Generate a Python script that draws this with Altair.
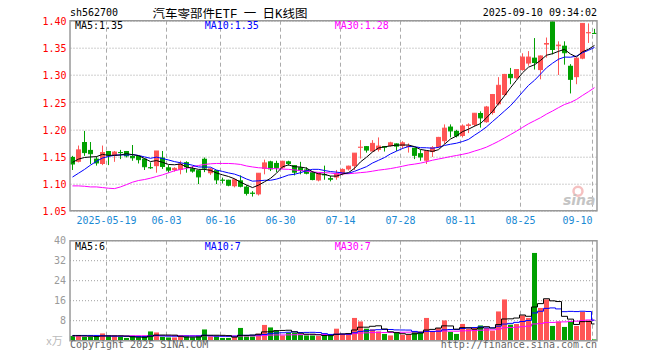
import altair as alt
import pandas as pd

dates = [
    "2025-05-09", "2025-05-12", "2025-05-13", "2025-05-14", "2025-05-15", "2025-05-16",
    "2025-05-19", "2025-05-20", "2025-05-21", "2025-05-22", "2025-05-23",
    "2025-05-26", "2025-05-27", "2025-05-28", "2025-05-29", "2025-05-30",
    "2025-06-03", "2025-06-04", "2025-06-05", "2025-06-06",
    "2025-06-09", "2025-06-10", "2025-06-11", "2025-06-12", "2025-06-13",
    "2025-06-16", "2025-06-17", "2025-06-18", "2025-06-19", "2025-06-20",
    "2025-06-23", "2025-06-24", "2025-06-25", "2025-06-26", "2025-06-27", "2025-06-30",
    "2025-07-01", "2025-07-02", "2025-07-03", "2025-07-04",
    "2025-07-07", "2025-07-08", "2025-07-09", "2025-07-10", "2025-07-11",
    "2025-07-14", "2025-07-15", "2025-07-16", "2025-07-17", "2025-07-18",
    "2025-07-21", "2025-07-22", "2025-07-23", "2025-07-24", "2025-07-25",
    "2025-07-28", "2025-07-29", "2025-07-30", "2025-07-31", "2025-08-01",
    "2025-08-04", "2025-08-05", "2025-08-06", "2025-08-07", "2025-08-08",
    "2025-08-11", "2025-08-12", "2025-08-13", "2025-08-14", "2025-08-15",
    "2025-08-18", "2025-08-19", "2025-08-20", "2025-08-21", "2025-08-22",
    "2025-08-25", "2025-08-26", "2025-08-27", "2025-08-28", "2025-08-29",
    "2025-09-01", "2025-09-02", "2025-09-03", "2025-09-04", "2025-09-05",
    "2025-09-08", "2025-09-09", "2025-09-10",
]

opens = [
    1.149, 1.140, 1.1765, 1.162, 1.146, 1.136, 1.160, 1.151, 1.158, 1.160,
    1.151, 1.151, 1.146, 1.130, 1.132, 1.148, 1.130, 1.1247, 1.1253, 1.1395,
    1.128, 1.1247, 1.1457, 1.119, 1.1247, 1.107, 1.107, 1.095, 1.106, 1.0944,
    1.083, 1.080, 1.127, 1.141, 1.138, 1.129, 1.141, 1.134, 1.130, 1.126,
    1.121, 1.1056, 1.117, 1.110, 1.111, 1.1185, 1.126, 1.132, 1.166, 1.169,
    1.159, 1.162, 1.169, 1.169, 1.174, 1.169, 1.167, 1.166, 1.156, 1.142,
    1.158, 1.167, 1.178, 1.205, 1.197, 1.1876, 1.206, 1.208, 1.230, 1.213,
    1.230, 1.246, 1.263, 1.302, 1.294, 1.309, 1.321, 1.332, 1.309, 1.356,
    1.399, 1.353, 1.354, 1.317, 1.296, 1.330, 1.377, 1.3775,
]
highs = [
    1.151, 1.170, 1.197, 1.1765, 1.150, 1.170, 1.160, 1.160, 1.162, 1.160,
    1.171, 1.151, 1.146, 1.139, 1.160, 1.160, 1.134, 1.130, 1.142, 1.141,
    1.132, 1.1247, 1.148, 1.129, 1.1247, 1.111, 1.107, 1.109, 1.115, 1.097,
    1.086, 1.119, 1.144, 1.142, 1.142, 1.142, 1.142, 1.134, 1.140, 1.130,
    1.123, 1.120, 1.133, 1.114, 1.125, 1.128, 1.133, 1.156, 1.180, 1.169,
    1.180, 1.185, 1.169, 1.177, 1.174, 1.178, 1.174, 1.166, 1.162, 1.160,
    1.169, 1.186, 1.209, 1.209, 1.199, 1.209, 1.211, 1.230, 1.233, 1.243,
    1.265, 1.296, 1.302, 1.313, 1.310, 1.340, 1.344, 1.368, 1.336, 1.369,
    1.400, 1.362, 1.362, 1.320, 1.331, 1.395, 1.395, 1.385,
]
lows = [
    1.125, 1.139, 1.151, 1.136, 1.133, 1.134, 1.134, 1.140, 1.145, 1.148,
    1.142, 1.137, 1.125, 1.127, 1.120, 1.127, 1.120, 1.122, 1.117, 1.120,
    1.120, 1.099, 1.121, 1.116, 1.099, 1.100, 1.095, 1.093, 1.093, 1.078,
    1.076, 1.078, 1.117, 1.123, 1.121, 1.127, 1.133, 1.115, 1.117, 1.117,
    1.106, 1.104, 1.107, 1.104, 1.107, 1.115, 1.124, 1.125, 1.146, 1.157,
    1.159, 1.159, 1.159, 1.168, 1.160, 1.164, 1.157, 1.145, 1.142, 1.136,
    1.149, 1.165, 1.173, 1.185, 1.185, 1.185, 1.193, 1.205, 1.203, 1.212,
    1.227, 1.244, 1.261, 1.283, 1.292, 1.308, 1.317, 1.310, 1.292, 1.332,
    1.338, 1.300, 1.319, 1.266, 1.283, 1.329, 1.359, 1.376,
]
closes = [
    1.136, 1.162, 1.157, 1.155, 1.138, 1.157, 1.1525, 1.158, 1.157, 1.151,
    1.1475, 1.144, 1.131, 1.129, 1.160, 1.1315, 1.1247, 1.128, 1.136, 1.131,
    1.123, 1.1123, 1.1284, 1.127, 1.1068, 1.106, 1.097, 1.107, 1.095, 1.082,
    1.082, 1.119, 1.138, 1.127, 1.129, 1.141, 1.137, 1.121, 1.124, 1.119,
    1.1074, 1.1185, 1.116, 1.108, 1.1185, 1.126, 1.132, 1.156, 1.167, 1.1617,
    1.174, 1.169, 1.167, 1.175, 1.169, 1.175, 1.169, 1.152, 1.149, 1.160,
    1.166, 1.185, 1.202, 1.197, 1.188, 1.206, 1.208, 1.2295, 1.221, 1.241,
    1.264, 1.281, 1.301, 1.295, 1.310, 1.333, 1.333, 1.323, 1.335, 1.358,
    1.347, 1.355, 1.341, 1.292, 1.331, 1.395, 1.378, 1.3765,
]
volumes = [
    1.9, 1.9, 1.5, 1.5, 1.5, 2.9, 2.1, 1.6, 1.5, 1.1,
    1.5, 1.3, 1.5, 3.7, 3.3, 1.5, 1.3, 1.3, 1.5, 1.7,
    1.3, 1.7, 4.5, 1.7, 1.7, 1.1, 1.1, 1.6, 5.1, 1.7,
    1.7, 2.8, 6.3, 5.3, 4.0, 2.1, 3.2, 3.2, 2.4, 2.1,
    2.1, 1.9, 1.9, 2.1, 4.8, 2.7, 2.7, 9.1, 7.7, 4.8,
    4.5, 3.7, 2.7, 2.1, 3.1, 2.4, 2.4, 3.7, 3.7, 9.1,
    3.7, 5.1, 8.1, 3.5, 2.7, 6.7, 4.8, 5.3, 6.1, 5.1,
    4.0, 11.7, 16.5, 6.4, 6.7, 10.1, 9.1, 35.1, 13.1, 16.5,
    5.9, 7.7, 5.5, 7.5, 5.9, 11.5, 8.1, 0.5,
]

ma5_head = [1.139, 1.145, 1.148, 1.149]
ma10_head = [1.112, 1.119, 1.126, 1.134, 1.141, 1.147, 1.150, 1.152, 1.153]
ma30_head = [1.0957, 1.0957, 1.095, 1.0938, 1.0938, 1.0926, 1.0914, 1.0907, 1.0938, 1.098,
             1.1025, 1.1056, 1.1074, 1.1099, 1.113, 1.116, 1.1198, 1.1235, 1.126, 1.1278,
             1.1309, 1.1333, 1.1352, 1.1364, 1.137, 1.137, 1.137, 1.1364, 1.1352]
vma5_head = [2.0, 2.0, 1.9, 1.8]
vma10_head = [2.1, 2.1, 2.1, 2.1, 2.1, 2.0, 1.9, 1.8, 1.8]
vma30_head = [1.9, 1.9, 1.9, 1.9, 1.9, 1.9, 1.9, 1.9, 1.9, 1.9,
              2.0, 2.0, 2.0, 2.0, 2.0, 2.0, 2.0, 2.0, 2.0, 2.0,
              2.0, 2.0, 2.0, 1.9, 1.9, 1.9, 1.9, 1.9, 1.9]

tick_idx = [6, 16, 25, 35, 45, 55, 65, 75, 87]
tick_labels = ["2025-05-19", "06-03", "06-16", "06-30", "07-14", "07-28", "08-11", "08-25", "09-10"]
price_ticks = [1.05, 1.10, 1.15, 1.20, 1.25, 1.30, 1.35, 1.40]
vol_ticks = [8, 16, 24, 32, 40]

RED = "#ff5555"
GREEN = "#00a000"
MONO = "DejaVu Sans Mono"
CJK = "Noto Sans CJK SC"
W, H_P, GAP, H_V = 527, 190, 30, 100
VT = H_P + GAP
VB = VT + H_V


def moving(values, w, head):
    s = pd.Series(values, dtype=float).rolling(w).mean()
    s.iloc[:len(head)] = head
    return s.round(4).tolist()


n = len(closes)
df = pd.DataFrame({
    "i": list(range(n)), "date": dates, "open": opens, "high": highs,
    "low": lows, "close": closes, "vol": volumes,
})
df["xl"] = df["i"] - 5 / 12
df["xr"] = df["i"] + 5 / 12
df["zero"] = 0.0
df["col"] = [RED if c >= o else GREEN for o, c in zip(opens, closes)]
df["ma5"] = moving(closes, 5, ma5_head)
df["ma10"] = moving(closes, 10, ma10_head)
df["ma30"] = moving(closes, 30, ma30_head)
df["vma5"] = moving(volumes, 5, vma5_head)
df["vma10"] = moving(volumes, 10, vma10_head)
df["vma30"] = moving(volumes, 30, vma30_head)

grid_df = pd.DataFrame({"xg": [k - 1 / 3 for k in tick_idx], "label": tick_labels})
vt_df = pd.DataFrame({"v": vol_ticks})
one = pd.DataFrame({"a": [0]})

xs = alt.Scale(domain=[-5 / 12, -5 / 12 + W / 6], nice=False, zero=False)
ps = alt.Scale(domain=[1.05, 1.40], range=[H_P, 0], nice=False, zero=False)
vs = alt.Scale(domain=[0, 40], range=[VB, VT], nice=False, zero=False)

price_axis = alt.Axis(values=price_ticks, format=".2f", labelColor="#ff0000", labelFont=MONO,
                      labelFontSize=10, ticks=False, tickSize=0, domain=False, grid=True,
                      gridColor="#a0a0a0", gridDash=[1, 2], labelPadding=4, labelFlush=False,
                      labelOverlap=False, labelOffset=1, title=None)


def X(f):
    return alt.X(f, type="quantitative", scale=xs, axis=None)


def P(f):
    return alt.Y(f, type="quantitative", scale=ps, axis=price_axis)


def V(f):
    return alt.Y(f, type="quantitative", scale=vs, axis=None)


COL = alt.Color("col:N", scale=None)


def txt(s, x, y, color="#000000", font=MONO, size=10, align="left", **kw):
    return alt.Chart(one).mark_text(text=s, align=align, baseline="alphabetic", font=font,
                                    fontSize=size, color=color, **kw).encode(
        x=alt.value(x), y=alt.value(y))


# ---- price panel
pv_grid = alt.Chart(grid_df).mark_rule(color="#aaaaaa", strokeDash=[4, 3], strokeWidth=1).encode(
    x=X("xg"), y=alt.value(0), y2=alt.value(H_P))
wick = alt.Chart(df).mark_rule(strokeWidth=1).encode(x=X("i"), y=P("low"), y2="high", color=COL)
body = alt.Chart(df).mark_rect().encode(x=X("xl"), x2="xr", y=P("open"), y2="close", color=COL)
flat = alt.Chart(df).mark_rule(strokeWidth=1).encode(x=X("xl"), x2="xr", y=P("close"), color=COL)
ma5l = alt.Chart(df).mark_line(color="#000000", strokeWidth=1).encode(x=X("i"), y=P("ma5"))
ma10l = alt.Chart(df).mark_line(color="#0000ff", strokeWidth=1).encode(x=X("i"), y=P("ma10"))
ma30l = alt.Chart(df).mark_line(color="#ff00ff", strokeWidth=1).encode(x=X("i"), y=P("ma30"))
dlab = alt.Chart(grid_df.iloc[:-1]).mark_text(align="center", baseline="alphabetic", font=MONO,
                                              fontSize=10, color="#1a8ad4").encode(
    x=X("xg"), y=alt.value(203.6), text="label:N")
dlab_last = alt.Chart(grid_df.iloc[-1:]).mark_text(align="right", baseline="alphabetic", font=MONO,
                                                   fontSize=10, color="#1a8ad4").encode(
    x=X("xg"), y=alt.value(203.6), text="label:N")

price = alt.layer(pv_grid, wick, body, flat, ma30l, ma10l, ma5l, dlab, dlab_last)

# ---- volume panel
vv_grid = alt.Chart(grid_df).mark_rule(color="#aaaaaa", strokeDash=[4, 3], strokeWidth=1).encode(
    x=X("xg"), y=alt.value(VT), y2=alt.value(VB))
vh_grid = alt.Chart(vt_df).mark_rule(color="#a0a0a0", strokeDash=[1, 2], strokeWidth=1).encode(
    y=V("v"), x=alt.value(0), x2=alt.value(W))
vlab = alt.Chart(vt_df).mark_text(align="right", baseline="middle", font=MONO, fontSize=10,
                                  color="#9a9a9a", dy=0.5).encode(y=V("v"), x=alt.value(-4), text="v:Q")
vbar = alt.Chart(df).mark_rect().encode(x=X("xl"), x2="xr", y=V("vol"), y2="zero", color=COL)
vma30l = alt.Chart(df).mark_line(color="#ff00ff", strokeWidth=1, interpolate="step").encode(
    x=X("i"), y=V("vma30"))
vma10l = alt.Chart(df).mark_line(color="#0000ff", strokeWidth=1, interpolate="step").encode(
    x=X("i"), y=V("vma10"))
vma5l = alt.Chart(df).mark_line(color="#000000", strokeWidth=1, interpolate="step").encode(
    x=X("i"), y=V("vma5"))

vol = alt.layer(vv_grid, vh_grid, vlab, vbar, vma30l, vma10l, vma5l)

# ---- borders and texts
border_p = alt.Chart(one).mark_rect(fillOpacity=0, stroke="#999999", strokeWidth=1.5).encode(
    x=alt.value(0), x2=alt.value(W), y=alt.value(0), y2=alt.value(H_P))
border_v = alt.Chart(one).mark_rect(fillOpacity=0, stroke="#999999", strokeWidth=1.5).encode(
    x=alt.value(0), x2=alt.value(W), y=alt.value(VT), y2=alt.value(VB))
logo = alt.Chart(one).mark_point(shape="circle", filled=False, color="#f2a8a8", strokeWidth=2.5,
                                 size=80).encode(x=alt.value(508), y=alt.value(170.5))

decor = [
    border_p, border_v, logo,
    txt("sina", 493, 184.3, color="#c4c4c4", font="DejaVu Sans", size=14,
        fontStyle="italic", fontWeight="bold"),
    txt("sh562700", 0, -4.2),
    txt("汽车零部件ETF\u2002一\u2002日K线图", 160, -2.6,
        font="Liberation Mono, Noto Sans CJK SC", size=12.5, align="center"),
    txt("2025-09-10 09:34:02", W, -4.8, align="right"),
    txt("MA5:1.35", 5, 8.8),
    txt("MA10:1.35", 134.7, 8.8, color="#0000ff"),
    txt("MA30:1.28", 264.7, 8.8, color="#ff00ff"),
    txt("MA5:6", 5, VT + 9.3),
    txt("MA10:7", 134.7, VT + 9.3, color="#0000ff"),
    txt("MA30:7", 264.7, VT + 9.3, color="#ff00ff"),
    txt("Copyright 2025 SINA.COM", 0, VT + 107.5, color="#666666"),
    txt("http://finance.sina.com.cn", W, VT + 107.5, color="#666666", align="right"),
    txt("x万", -7.3, VT + 104, color="#bbbbbb", font=CJK, size=11, align="right"),
]

chart = alt.layer(price, vol, *decor).resolve_scale(y="independent").properties(
    width=W, height=VB,
    padding={"left": 62, "top": 12.7, "right": 50, "bottom": 19},
    autosize=alt.AutoSizeParams(type="none"),
    background="white",
).configure_view(strokeWidth=0)

chart.save("out.html", embed_options={"renderer": "svg", "actions": False})
